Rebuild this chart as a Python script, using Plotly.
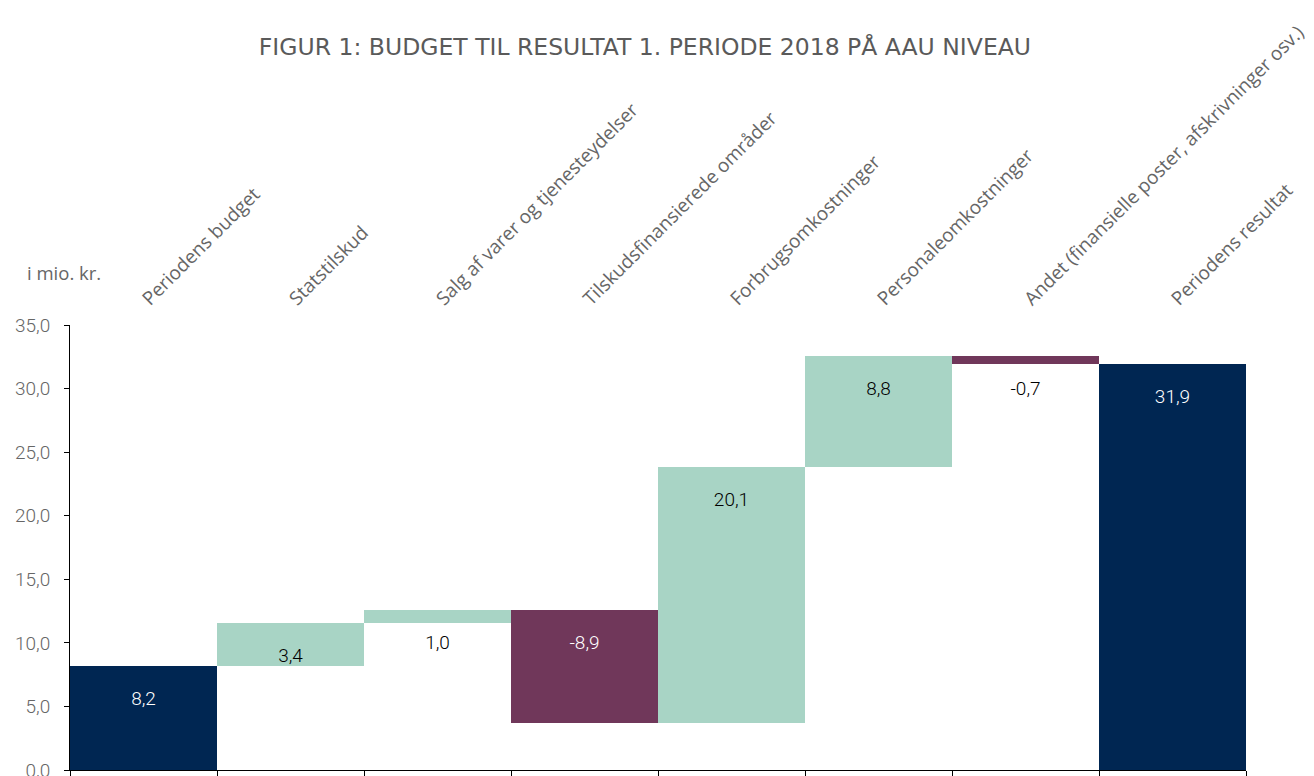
import plotly.graph_objects as go

# data
categories = [
    "Periodens budget",
    "Statstilskud",
    "Salg af varer og tjenesteydelser",
    "Tilskudsfinansierede områder",
    "Forbrugsomkostninger",
    "Personaleomkostninger",
    "Andet (finansielle poster, afskrivninger osv.)",
    "Periodens resultat",
]
values = [8.2, 3.4, 1.0, -8.9, 20.1, 8.8, -0.7, 31.9]
kinds = ["total", "delta", "delta", "delta", "delta", "delta", "delta", "total"]
y_ticks = [0, 5, 10, 15, 20, 25, 30, 35]

NAVY = "#002652"
MINT = "#a8d4c5"
PURPLE = "#70375a"

# floating bars: base + height
bases, heights, colors = [], [], []
running = 0.0
for v, k in zip(values, kinds):
    if k == "total":
        bases.append(0)
        heights.append(v)
        colors.append(NAVY)
        running = v
    else:
        new = running + v
        bases.append(min(running, new))
        heights.append(abs(v))
        colors.append(MINT if v > 0 else PURPLE)
        running = new

tops = [b + h for b, h in zip(bases, heights)]
label_y = [t - 2.7 for t in tops]
label_txt = [f"{v:.1f}".replace(".", ",") for v in values]
label_col = ["white" if (c != MINT and h > 3) else "black"
             for c, h in zip(colors, heights)]

fig = go.Figure()

fig.add_trace(go.Bar(
    x=categories, y=heights, base=bases,
    marker=dict(color=colors, line=dict(width=0)),
    hoverinfo="skip", showlegend=False,
))

fig.add_trace(go.Scatter(
    x=categories, y=label_y, mode="text", text=label_txt,
    textfont=dict(family="Roboto", size=19, weight=300, color=label_col),
    hoverinfo="skip", showlegend=False,
))

# invisible trace so the top axis carries the category labels
fig.add_trace(go.Scatter(
    x=categories, y=[0] * len(categories), xaxis="x2", mode="markers",
    marker=dict(opacity=0), hoverinfo="skip", showlegend=False,
))

# the page body has an 8px margin, so the figure is sized to fit the window
fig.update_layout(
    width=1306, height=768,
    margin=dict(l=62, r=68, t=317, b=6),
    paper_bgcolor="white", plot_bgcolor="white",
    separators=",.",
    bargap=0,
    title=dict(
        text="FIGUR 1: BUDGET TIL RESULTAT 1. PERIODE 2018 PÅ AAU NIVEAU",
        x=0.4877, xanchor="center", y=0.949, yanchor="middle",
        font=dict(family="DejaVu Sans", size=23.5, color="#5a5a5a"),
    ),
    xaxis=dict(
        type="category", categoryorder="array", categoryarray=categories,
        showline=True, linecolor="black", linewidth=1,
        ticks="outside", ticklen=5, tickcolor="black", tickson="boundaries",
        showticklabels=False, showgrid=False, zeroline=False,
        automargin=False,
    ),
    xaxis2=dict(
        type="category", categoryorder="array", categoryarray=categories,
        overlaying="x", side="top", matches="x",
        showline=False, ticks="", showgrid=False,
        tickangle=-45, ticklabelstandoff=11,
        tickfont=dict(family="Open Sans", size=19, color="#666666"),
        automargin=False,
    ),
    yaxis=dict(
        range=[0, 35], tickvals=y_ticks, tickformat=".1f",
        showline=True, linecolor="black", linewidth=1,
        ticks="outside", ticklen=5, tickcolor="black",
        ticklabelstandoff=10, ticklabeloverflow="allow",
        showgrid=False, zeroline=False,
        tickfont=dict(family="Roboto", size=19, weight=300, color="#666666"),
        automargin=False,
    ),
    annotations=[dict(
        text="i mio. kr.", xref="paper", yref="paper",
        x=-0.038, xanchor="left", y=1.119, yanchor="middle",
        showarrow=False,
        font=dict(family="Open Sans", size=18.5, color="#666666"),
    )],
)

fig.write_html("out.html")
